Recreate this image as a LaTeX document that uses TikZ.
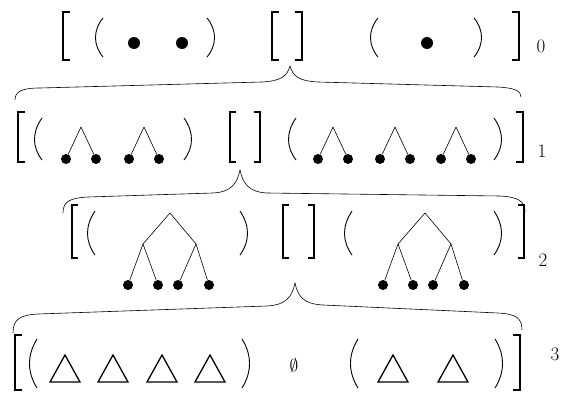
\documentclass[tikz,border=0pt]{standalone}
\usepackage{tikz}
\usetikzlibrary{calc}
\tikzset{
  sqbr/.style={line width=1.6pt, line cap=butt, line join=miter},
  paren/.style={line width=0.9pt},
  brace/.style={line width=0.6pt},
  ball/.style={circle, fill=black, inner sep=0pt, minimum size=10pt},
  bigball/.style={circle, fill=black, inner sep=0pt, minimum size=12pt},
  edge/.style={line width=0.6pt},
  tri/.style={line width=1.3pt, line join=miter},
  lvl/.style={font=\fontsize{19}{21}\selectfont, inner sep=0pt}
}

\begin{document}
\begin{tikzpicture}[x=1pt, y=-1pt]
  \useasboundingbox (0,0) rectangle (564,393);

  % Level 0
  \draw[sqbr] (70,12) -| (63,60) -- (70,60);
  \draw[paren] (103,18) .. controls (93,30) and (93,45) .. (103,57);
  \node[bigball] (z1) at (134,43) {};
  \node[bigball] (z2) at (182,43) {};
  \draw[paren] (207,18) .. controls (217,30) and (217,45) .. (207,57);
  \draw[sqbr] (279,12) -| (272,60) -- (279,60);
  \draw[sqbr] (295,12) -| (302,60) -- (295,60);
  \draw[paren] (378,18) .. controls (368,30) and (368,45) .. (378,57);
  \node[bigball] (z3) at (427,43) {};
  \draw[paren] (474,18) .. controls (484,30) and (484,45) .. (474,57);
  \draw[sqbr] (512,12) -| (519,60) -- (512,60);
  \node[lvl] (lab0) at (541,46) {0};

  % Brace 0 -> 1
  \draw[brace] (15,100) .. controls (15,92) and (21,88) .. (40,88)
    -- (262,82) .. controls (280,81) and (287,77) .. (290,66)
    .. controls (293,77) and (300,81) .. (318,82)
    -- (498,87) .. controls (515,88) and (521,91) .. (521,97);

  % Level 1
  \draw[sqbr] (25,112) -| (18,162) -- (25,162);
  \draw[paren] (42,118) .. controls (32,132) and (32,147) .. (42,160);
  \foreach \x/\n in {81/a, 144/b, 333/c, 395/d, 456/e} {
    \coordinate (h\n) at (\x,127);
    \node[ball] (l\n) at (\x-15,159) {};
    \node[ball] (r\n) at (\x+15,159) {};
    \draw[edge] (h\n) -- (l\n);
    \draw[edge] (h\n) -- (r\n);
  }
  \draw[paren] (184,118) .. controls (194,132) and (194,147) .. (184,160);
  \draw[sqbr] (236,112) -| (230,162) -- (236,162);
  \draw[sqbr] (254,112) -| (260,162) -- (254,162);
  \draw[paren] (296,118) .. controls (286,132) and (286,147) .. (296,160);
  \draw[paren] (494,118) .. controls (504,132) and (504,147) .. (494,160);
  \draw[sqbr] (516,112) -| (523,162) -- (516,162);
  \node[lvl] (lab1) at (542,151) {1};

  % Brace 1 -> 2
  \draw[brace] (63,213) .. controls (63,202) and (69,198) .. (88,197)
    -- (213,193) .. controls (231,192) and (237,184) .. (240,170)
    .. controls (243,184) and (249,192) .. (267,193)
    -- (500,196) .. controls (518,197) and (525,201) .. (525,212);

  % Level 2
  \draw[sqbr] (78,205) -| (72,258) -- (78,258);
  \draw[paren] (95,211) .. controls (85,226) and (85,241) .. (95,255);
  \foreach \x/\n in {170/a, 425/b} {
    \coordinate (t\n) at (\x,213);
    \coordinate (tl\n) at (\x-27,244);
    \coordinate (tr\n) at (\x+26,244);
    \node[ball] (ta\n) at (\x-42,285) {};
    \node[ball] (tb\n) at (\x-12,285) {};
    \node[ball] (tc\n) at (\x+8,285) {};
    \node[ball] (td\n) at (\x+39,285) {};
    \draw[edge] (tl\n) -- (t\n) -- (tr\n);
    \draw[edge] (ta\n) -- (tl\n) -- (tb\n);
    \draw[edge] (tc\n) -- (tr\n) -- (td\n);
  }
  \draw[paren] (240,211) .. controls (250,226) and (250,241) .. (240,255);
  \draw[sqbr] (289,205) -| (283,258) -- (289,258);
  \draw[sqbr] (308,205) -| (314,258) -- (308,258);
  \draw[paren] (352,211) .. controls (342,226) and (342,241) .. (352,255);
  \draw[paren] (494,211) .. controls (504,226) and (504,241) .. (494,255);
  \draw[sqbr] (518,205) -| (524,258) -- (518,258);
  \node[lvl] (lab2) at (543,260) {2};

  % Brace 2 -> 3
  \draw[brace] (13,333) .. controls (13,320) and (19,315) .. (38,314)
    -- (267,306) .. controls (286,305) and (292,297) .. (295,283)
    .. controls (298,297) and (304,304) .. (323,305)
    -- (498,313) .. controls (516,314) and (522,318) .. (522,330);

  % Level 3
  \draw[sqbr] (22,335) -| (15,390) -- (22,390);
  \draw[paren] (37,339) .. controls (27,355) and (27,372) .. (37,388);
  \foreach \x/\n in {65/a, 113/b, 162/c, 210/d, 393/e, 453/f}
    \draw[tri] (\x-15,382) -- (\x,355) -- (\x+15,382) -- cycle;
  \draw[paren] (242,339) .. controls (252,355) and (252,372) .. (242,388);
  \node[font=\fontsize{16}{18}\selectfont, inner sep=0pt] (empty) at (294,365) {$\emptyset$};
  \draw[paren] (358,339) .. controls (348,355) and (348,372) .. (358,388);
  \draw[paren] (495,339) .. controls (505,355) and (505,372) .. (495,388);
  \draw[sqbr] (513,335) -| (520,390) -- (513,390);
  \node[lvl] (lab3) at (555,354) {3};
\end{tikzpicture}
\end{document}
